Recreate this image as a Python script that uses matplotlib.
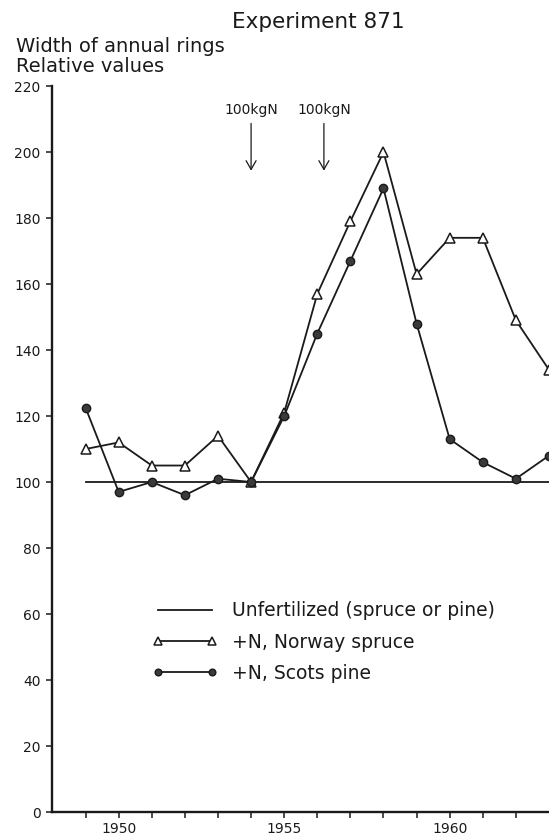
import matplotlib
matplotlib.use("Agg")
import matplotlib.pyplot as plt
from matplotlib.ticker import MultipleLocator, FixedLocator

# --- data --------------------------------------------------------------------
years = [1949, 1950, 1951, 1952, 1953, 1954, 1955, 1956,
         1957, 1958, 1959, 1960, 1961, 1962, 1963]
unfertilized = [100] * len(years)
spruce = [110, 112, 105, 105, 114, 100, 121, 157,
          179, 200, 163, 174, 174, 149, 134]
pine = [122.5, 97, 100, 96, 101, 100, 120, 145,
        167, 189, 148, 113, 106, 101, 108]
fert_years = [1954, 1956.2]
fert_label = "100kgN"

INK = "#1a1a1a"
FONT = ["DejaVu Sans"]

fig = plt.figure(figsize=(5.49, 8.40), dpi=100, facecolor="white")
ax = fig.add_axes([0.0956, 0.0333, 0.9044, 0.8643])

ax.plot(years, unfertilized, color=INK, lw=1.3, label="Unfertilized (spruce or pine)",
        zorder=2)
ax.plot(years, spruce, color=INK, lw=1.3, marker="^", ms=7, mfc="white",
        mec=INK, mew=1.1, label="+N, Norway spruce", zorder=3, clip_on=False)
ax.plot(years, pine, color=INK, lw=1.3, marker="o", ms=6, mfc="#3a3a3a",
        mec=INK, mew=1.0, label="+N, Scots pine", zorder=4, clip_on=False)

for fx in fert_years:
    ax.annotate("", xy=(fx, 193.5), xytext=(fx, 209.5),
                arrowprops=dict(arrowstyle="->,head_length=0.35,head_width=0.2",
                                lw=0.9, color=INK, mutation_scale=18))
    ax.text(fx, 212.8, fert_label, ha="center", va="center", fontsize=10,
            family=FONT, color=INK)

ax.set_xlim(1948, 1963)
ax.set_ylim(0, 220)
ax.yaxis.set_major_locator(MultipleLocator(20))
ax.xaxis.set_major_locator(FixedLocator([1950, 1955, 1960]))
ax.xaxis.set_minor_locator(FixedLocator([y for y in years if y % 5 and y < 1963]))
ax.tick_params(which="both", direction="out", length=4.5, width=1.1, color=INK,
               labelsize=10, labelcolor=INK)
ax.tick_params(axis="x", pad=2.5)
ax.tick_params(axis="y", pad=4)

for s in ("top", "right"):
    ax.spines[s].set_visible(False)
for s in ("left", "bottom"):
    ax.spines[s].set_linewidth(1.7)
    ax.spines[s].set_color(INK)

leg = ax.legend(loc="center left", bbox_to_anchor=(0.2004, 0.234), frameon=False,
                handlelength=3.5, handletextpad=0.75, labelspacing=0.65,
                borderpad=0, borderaxespad=0, numpoints=2, markerscale=0.8,
                prop=dict(family=FONT, size=13.5))
for t in leg.get_texts():
    t.set_color(INK)

fig.text(232 / 549, 1 - 22 / 840, "Experiment 871", ha="left", va="center",
         fontsize=15.5, family=FONT, color=INK)
fig.text(16 / 549, 1 - 47 / 840, "Width of annual rings", ha="left", va="center",
         fontsize=14, family=FONT, color=INK)
fig.text(16 / 549, 1 - 67 / 840, "Relative values", ha="left", va="center",
         fontsize=14, family=FONT, color=INK)

fig.savefig("out.png", dpi=100, facecolor="white")
